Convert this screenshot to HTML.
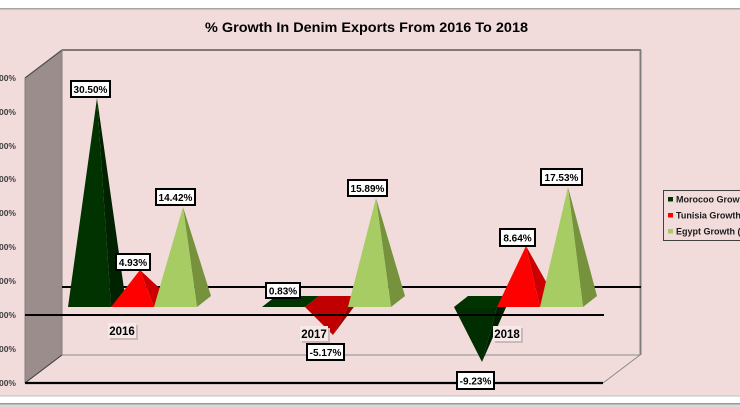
<!DOCTYPE html>
<html><head><meta charset="utf-8"><style>
html,body{margin:0;padding:0;background:#fff;}
svg{display:block;}
text{font-family:"Liberation Sans",sans-serif;font-weight:bold;}
</style></head><body>
<svg width="740" height="407" viewBox="0 0 740 407" xmlns="http://www.w3.org/2000/svg">
<rect x="0" y="0" width="740" height="407" fill="#ffffff"/>
<rect x="0" y="8" width="740" height="1.5" fill="#a6a6a6"/>
<rect x="0" y="9.5" width="740" height="386" fill="#f2dcdb"/>
<rect x="0" y="395.5" width="740" height="1" fill="#bfbfbf"/>
<rect x="0" y="403" width="740" height="1.5" fill="#9a9a9a"/>
<rect x="0" y="404.5" width="740" height="3" fill="#d9d9d9"/>

<text x="366.5" y="32" font-size="14" text-anchor="middle" fill="#000" textLength="323" lengthAdjust="spacingAndGlyphs">% Growth In Denim Exports From 2016 To 2018</text>

<!-- side wall -->
<polygon points="25,78 62,50 62,355 25,383" fill="#9b8d8c"/>
<line x1="25" y1="78" x2="62" y2="50" stroke="#4d4d4d" stroke-width="1.2"/>
<line x1="25" y1="78" x2="25" y2="383" stroke="#8a7c7b" stroke-width="1"/>
<!-- back wall edges -->
<line x1="62" y1="50" x2="641" y2="50" stroke="#595959" stroke-width="1.5"/>
<line x1="62" y1="50" x2="62" y2="355" stroke="#7f7f7f" stroke-width="1"/>
<line x1="640.5" y1="50" x2="640.5" y2="355" stroke="#7f7f7f" stroke-width="2"/>
<line x1="62" y1="355" x2="640" y2="355" stroke="#8c8c8c" stroke-width="1"/>
<line x1="640" y1="355" x2="603" y2="383" stroke="#8c8c8c" stroke-width="1"/>
<line x1="25" y1="383" x2="62" y2="355" stroke="#3a3a3a" stroke-width="1"/>

<!-- back gridline -->
<line x1="62" y1="287" x2="641" y2="287" stroke="#000" stroke-width="2"/>

<!-- y labels -->
<g font-size="8.5" fill="#404040" text-anchor="end">
<text x="16" y="81">35.00%</text>
<text x="16" y="115">30.00%</text>
<text x="16" y="149">25.00%</text>
<text x="16" y="182">20.00%</text>
<text x="16" y="216">15.00%</text>
<text x="16" y="250">10.00%</text>
<text x="16" y="284">5.00%</text>
<text x="16" y="318">0.00%</text>
<text x="16" y="352">-5.00%</text>
<text x="16" y="386">-10.00%</text>
</g>

<!-- 2016 -->
<polygon points="111,307 125,296 97,98" fill="#002200"/>
<polygon points="68,307 111,307 97,98" fill="#003300"/>
<polygon points="154,307 168,296 140,270" fill="#cc0000"/>
<polygon points="111,307 154,307 140,270" fill="#ff0000"/>
<polygon points="197,307 211,296 183,207" fill="#76923c"/>
<polygon points="154,307 197,307 183,207" fill="#a8cc64"/>

<!-- 2017 -->
<polygon points="262,307 305,307 319,296 276,296" fill="#003300"/>
<polygon points="305,307 348,307 362,296 319,296" fill="#c00000"/>
<polygon points="348,307 362,296 333,335" fill="#990000"/>
<polygon points="305,307 348,307 333,335" fill="#c00000"/>
<polygon points="391,307 405,296 376,198" fill="#76923c"/>
<polygon points="348,307 391,307 376,198" fill="#a8cc64"/>

<!-- 2018 -->
<polygon points="454,307 497,307 511,296 468,296" fill="#003300"/>
<polygon points="497,307 511,296 482,362" fill="#001f00"/>
<polygon points="454,307 497,307 482,362" fill="#002e00"/>
<polygon points="540,307 554,296 526,246" fill="#cc0000"/>
<polygon points="497,307 540,307 526,246" fill="#ff0000"/>
<polygon points="583,307 597,296 568,187" fill="#76923c"/>
<polygon points="540,307 583,307 568,187" fill="#a8cc64"/>

<!-- front gridlines -->
<line x1="25" y1="315" x2="604" y2="315" stroke="#000" stroke-width="2"/>
<line x1="25" y1="383" x2="603" y2="383" stroke="#000" stroke-width="2.2"/>

<!-- category labels -->
<g font-size="11.5" fill="#000">
<rect x="110" y="325" width="28" height="15" fill="#c9b9b8"/>
<rect x="108" y="323" width="28" height="15" fill="#f6e9e8"/>
<text x="122" y="335" text-anchor="middle">2016</text>
<rect x="302" y="328" width="28" height="15" fill="#c9b9b8"/>
<rect x="300" y="326" width="28" height="15" fill="#f6e9e8"/>
<text x="314" y="338" text-anchor="middle">2017</text>
<rect x="495" y="328" width="28" height="15" fill="#c9b9b8"/>
<rect x="493" y="326" width="28" height="15" fill="#f6e9e8"/>
<text x="507" y="338" text-anchor="middle">2018</text>
</g>

<!-- data labels -->
<g font-size="10" fill="#000" text-anchor="middle">
<rect x="71" y="81" width="39" height="16" fill="#fff" stroke="#000" stroke-width="2"/>
<text x="90.5" y="93">30.50%</text>
<rect x="116" y="254" width="34" height="16" fill="#fff" stroke="#000" stroke-width="2"/>
<text x="133" y="266">4.93%</text>
<rect x="156" y="189" width="39" height="16" fill="#fff" stroke="#000" stroke-width="2"/>
<text x="175.5" y="201">14.42%</text>
<rect x="266" y="283" width="34" height="15" fill="#fff" stroke="#000" stroke-width="2"/>
<text x="283" y="294.5">0.83%</text>
<rect x="307" y="344" width="37" height="16" fill="#fff" stroke="#000" stroke-width="2"/>
<text x="325.5" y="356">-5.17%</text>
<rect x="348" y="180" width="39" height="16" fill="#fff" stroke="#000" stroke-width="2"/>
<text x="367.5" y="192">15.89%</text>
<rect x="541" y="169" width="41" height="16" fill="#fff" stroke="#000" stroke-width="2"/>
<text x="561.5" y="181">17.53%</text>
<rect x="500" y="229" width="35" height="17" fill="#fff" stroke="#000" stroke-width="2"/>
<text x="517.5" y="241.5">8.64%</text>
<rect x="457" y="372" width="37" height="17" fill="#fff" stroke="#000" stroke-width="2"/>
<text x="475.5" y="384.5">-9.23%</text>
</g>

<!-- legend -->
<rect x="663.5" y="190.5" width="90" height="50" fill="#f2dcdb" stroke="#404040" stroke-width="1"/>
<rect x="668" y="197" width="5" height="4.5" fill="#003300"/>
<rect x="668" y="213" width="5" height="4.5" fill="#ff0000"/>
<rect x="668" y="229" width="5" height="4.5" fill="#a8cc64"/>
<g font-size="9" fill="#1a1a1a">
<text x="676" y="202.5">Morocoo Growth ( %)</text>
<text x="676" y="218.5">Tunisia Growth ( %)</text>
<text x="676" y="234.5">Egypt Growth ( %)</text>
</g>
</svg>
</body></html>
